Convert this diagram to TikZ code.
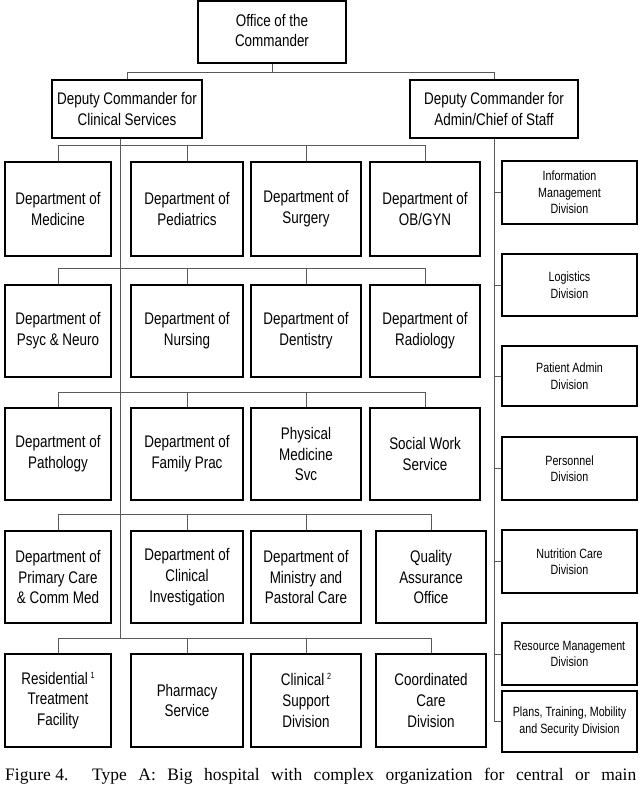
\documentclass[tikz,border=0pt]{standalone}
\usepackage{fontspec}
\setmainfont{Liberation Sans}[FakeStretch=0.8]
\newfontfamily\capfont{Liberation Serif}
\newcommand{\supmark}[1]{\,{\fontsize{9}{9}\selectfont\raisebox{6pt}{#1}}}
\begin{document}
\begin{tikzpicture}[x=1pt,y=-1pt,
  box/.style={draw=black, line width=1.1pt, align=center, inner sep=1pt,
    font=\fontsize{16.8}{20.8}\selectfont},
  rbox/.style={box, font=\fontsize{13.4}{16.5}\selectfont, minimum width=135pt},
  cA/.style={minimum width=106pt},
  cB/.style={minimum width=112pt},
  cC/.style={minimum width=110pt},
  cD/.style={minimum width=110pt},
  conn/.style={draw=black!65, line width=0.8pt},
  captxt/.style={anchor=base west, inner sep=0pt, font=\capfont\fontsize{17.5}{20}\selectfont}
]
\useasboundingbox (0,0) rectangle (640,786);
\clip (0,0) rectangle (640,786);

% top level
\node[box, minimum width=148pt, minimum height=62pt] (office) at (272,32) {\raisebox{-3pt}{\begin{tabular}{@{}c@{}}Office of the\\[-0.5pt]Commander\end{tabular}}};
\node[box, minimum width=150pt, minimum height=58pt] (dl) at (127,109) {Deputy Commander for\\Clinical Services};
\node[box, minimum width=168pt, minimum height=58pt] (dr) at (494,109) {Deputy Commander for\\Admin/Chief of Staff};

% row 1
\node[box, cA, minimum height=94pt] (a1) at (58,209) {Department of\\Medicine};
\node[box, cB, minimum height=94pt] (b1) at (187,209) {Department of\\Pediatrics};
\node[box, cC, minimum height=94pt] (c1) at (306,209) {Department of\\Surgery};
\node[box, cD, minimum height=94pt] (d1) at (425,209) {Department of\\OB/GYN};
% row 2
\node[box, cA, minimum height=92pt] (a2) at (58,331) {Department of\\Psyc \& Neuro};
\node[box, cB, minimum height=92pt] (b2) at (187,331) {Department of\\Nursing};
\node[box, cC, minimum height=92pt] (c2) at (306,331) {Department of\\Dentistry};
\node[box, cD, minimum height=92pt] (d2) at (425,331) {Department of\\Radiology};
% row 3
\node[box, cA, minimum height=92pt] (a3) at (58,454) {Department of\\Pathology};
\node[box, cB, minimum height=92pt] (b3) at (187,454) {Department of\\Family Prac};
\node[box, cC, minimum height=92pt] (c3) at (306,454) {Physical\\Medicine\\Svc};
\node[box, cD, minimum height=92pt] (d3) at (425,454) {Social Work\\Service};
% row 4
\node[box, cA, minimum height=92pt] (a4) at (58,577) {Department of\\Primary Care\\\& Comm Med};
\node[box, cB, minimum height=92pt] (b4) at (187,577) {Department of\\Clinical\\Investigation};
\node[box, cC, minimum height=92pt] (c4) at (306,577) {Department of\\Ministry and\\Pastoral Care};
\node[box, cD, minimum height=92pt] (d4) at (431,577) {Quality\\Assurance\\Office};
% row 5
\node[box, cA, minimum height=93pt] (a5) at (58,700.5) {Residential\supmark{1}\\Treatment\\Facility};
\node[box, cB, minimum height=93pt] (b5) at (187,700.5) {Pharmacy\\Service};
\node[box, cC, minimum height=93pt] (c5) at (306,700.5) {Clinical\supmark{2}\\Support\\Division};
\node[box, cD, minimum height=93pt] (d5) at (431,700.5) {Coordinated\\Care\\Division};

% right column
\node[rbox, minimum height=63pt] (info) at (569.5,192.5) {Information\\Management\\Division};
\node[rbox, minimum height=62pt] (logi) at (569.5,285) {Logistics\\Division};
\node[rbox, minimum height=60pt] (padm) at (569.5,376) {Patient Admin\\Division};
\node[rbox, minimum height=63pt] (pers) at (569.5,468.5) {Personnel\\Division};
\node[rbox, minimum height=63pt] (nutr) at (569.5,561.5) {Nutrition Care\\Division};
\node[rbox, minimum height=62pt] (reso) at (569.5,654) {Resource Management\\Division};
\node[rbox, minimum height=61pt] (plan) at (569.5,721.5) {Plans, Training, Mobility\\and Security Division};

% connectors: top
\draw[conn] (office.south) -- ++(0,9) -| (dl.north);
\draw[conn] (office.south) -- ++(0,9) -| (dr.north);

% left spine
\coordinate (spinebot) at (120,639);
\draw[conn] ([xshift=-7pt]dl.south) -- (spinebot);

% row bars
\foreach \r/\o in {1/16,2/16,3/15,4/16,5/15}{
  \draw[conn] (a\r.north) -- ++(0,-\o) -| (d\r.north);
  \draw[conn] (b\r.north) -- ++(0,-\o);
  \draw[conn] (c\r.north) -- ++(0,-\o);
}

% right spine
\draw[conn] (dr.south) |- (plan.west);
\foreach \n in {info,logi,padm,pers,nutr,reso}{
  \draw[conn] (\n.west) -- (\n.west -| dr.south);
}

% caption
\node[captxt] (fig) at (5,780.5) {Figure 4.};
\node[captxt] (cap) at (92,780.5) {\makebox[544pt][s]{Type A: Big hospital with complex organization for central or main}};
\end{tikzpicture}
\end{document}
